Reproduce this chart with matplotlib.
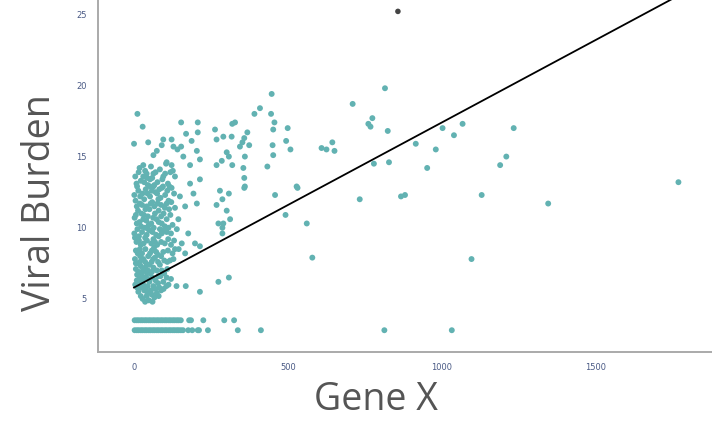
import matplotlib
matplotlib.use("Agg")
import matplotlib.pyplot as plt
import numpy as np

# ---- data (Gene X, Viral Burden) ----
dense_x = [11, 28, 0, 46, 153, 207, 207, 169, 95, 122, 153, 187, 90, 128, 74, 63, 106, 122, 182, 204,
           141, 160, 214, 41, 52, 30, 63, 95, 133, 90, 122, 149, 182, 214, 193, 52, 79, 106, 41, 133,
           166, 204, 68, 30, 9, 106, 144, 176, 139, 84, 46, 3, 63, 111, 155, 198, 214, 19, 52, 95,
           133, 166, 19, 57, 84, 117, 25, 52, 79, 106, 9, 30, 63, 95, 14, 41, 74, 138, 168, 214]
dense_y = [18.0, 17.1, 15.9, 16.0, 17.4, 17.4, 16.7, 16.6, 16.2, 16.2, 15.7, 16.1, 15.8, 15.7, 15.4, 15.1, 14.6, 14.4, 14.4, 15.4,
           15.5, 15.0, 14.8, 13.8, 13.4, 13.6, 12.9, 13.6, 13.6, 12.8, 12.8, 12.2, 13.1, 13.4, 12.4, 12.2, 12.0, 11.7, 11.5, 11.4,
           11.5, 11.7, 11.0, 10.6, 10.3, 10.6, 10.6, 9.6, 9.9, 9.9, 9.9, 9.3, 9.2, 9.2, 8.9, 8.9, 8.7, 8.5, 8.2, 8.3,
           8.5, 8.2, 7.6, 7.6, 7.4, 7.7, 6.9, 6.8, 6.6, 6.5, 6.3, 6.0, 5.9, 6.2, 5.5, 5.2, 5.4, 5.9, 5.9, 5.5]

fill_x = [18, 36, 55, 70, 84, 101, 8, 22, 45, 59, 76, 110, 118, 14, 27, 38, 70, 101, 115,
          5, 19, 33, 59, 88, 121, 13, 24, 50, 80, 96, 114, 2, 18, 40, 56, 73, 90, 125,
          11, 26, 35, 60, 72, 97, 120, 8, 16, 31, 42, 75, 88, 130, 6, 26, 37, 65, 78, 110, 145,
          3, 11, 30, 42, 68, 98, 128, 6, 15, 36, 45, 63, 90, 108, 17, 38, 50, 70, 86, 120,
          22, 44, 55, 82, 105, 22, 33, 58, 66, 88, 48, 28]
fill_y = [14.2, 14.0, 14.3, 13.9, 14.1, 13.8, 13.1, 13.3, 13.0, 13.5, 13.2, 13.1, 13.9, 12.6, 12.4, 12.7, 12.5, 12.3, 12.9,
          11.9, 11.7, 12.0, 11.8, 11.6, 11.8, 11.2, 11.0, 11.3, 11.2, 11.0, 11.3, 10.7, 10.4, 10.5, 10.3, 10.6, 10.3, 10.2,
          9.9, 9.7, 10.0, 9.7, 9.5, 9.8, 9.6, 9.0, 9.1, 8.9, 9.1, 8.8, 9.0, 9.1, 8.4, 8.2, 8.5, 8.6, 8.1, 8.4, 8.5,
          7.8, 7.5, 7.8, 7.4, 7.9, 7.7, 7.8, 7.1, 6.9, 7.2, 7.0, 7.2, 7.0, 7.1, 6.4, 6.5, 6.2, 6.3, 6.6, 6.4,
          5.8, 5.9, 5.6, 5.8, 5.9, 5.2, 5.6, 5.3, 5.1, 5.6, 4.9, 5.0]

fill2_x = [4, 15, 30, 43, 63, 92, 104, 126, 10, 33, 52, 66, 82, 94, 108, 1, 20, 44, 58, 75, 86, 130,
           9, 26, 37, 54, 66, 76, 100, 112, 6, 32, 45, 62, 88, 118, 23, 48, 64, 80, 100, 112,
           1, 16, 41, 52, 80, 90, 106, 22, 36, 56, 68, 100, 120, 12, 20, 46, 58, 72, 88, 125,
           6, 22, 36, 50, 62, 78, 108, 10, 26, 32, 42, 58, 74, 98, 4, 14, 28, 46, 60, 78, 96, 112,
           10, 38, 52, 70, 80, 44, 60, 36]
fill2_y = [13.6, 13.9, 14.4, 13.5, 13.8, 13.4, 14.5, 14.0, 12.9, 13.2, 12.9, 13.0, 12.7, 12.9, 12.6, 12.3, 12.2, 12.4, 12.6, 12.4, 12.1, 12.4,
           11.5, 11.6, 11.3, 11.7, 11.5, 11.7, 11.4, 11.9, 10.9, 10.9, 10.8, 10.7, 10.8, 10.9, 10.1, 10.2, 10.0, 10.4, 10.1, 10.0,
           9.6, 9.4, 9.5, 9.8, 9.4, 9.6, 9.7, 8.8, 9.3, 8.9, 9.0, 8.9, 8.8, 8.2, 8.0, 8.0, 8.4, 8.3, 8.0, 8.2,
           7.5, 7.3, 7.6, 7.4, 7.8, 7.6, 7.6, 6.7, 6.6, 7.0, 6.8, 6.9, 7.0, 6.8, 6.0, 6.2, 6.3, 6.4, 6.5, 6.1, 5.7, 6.0,
           5.8, 5.7, 5.5, 5.7, 5.2, 5.4, 4.8, 4.8]

mid_x = [447, 409, 391, 445, 456, 328, 319, 452, 499, 368, 263, 290, 317, 268, 358, 352, 344, 374, 494, 508,
         450, 452, 301, 308, 285, 268, 319, 360, 355, 433, 358, 360, 609, 625, 644, 651, 528,
         358, 279, 308, 268, 287, 301, 458, 531, 492, 561, 579, 274, 290, 312, 287, 287, 274, 308]
mid_y = [19.4, 18.4, 18.0, 18.0, 17.4, 17.4, 17.3, 16.9, 17.0, 16.7, 16.9, 16.4, 16.4, 16.2, 16.3, 16.0, 15.7, 15.8, 16.1, 15.5,
         15.8, 15.1, 15.3, 15.0, 14.7, 14.4, 14.4, 15.0, 14.2, 14.3, 13.5, 12.9, 15.6, 15.5, 16.0, 15.4, 12.9,
         12.8, 12.6, 12.4, 11.6, 12.0, 11.2, 12.3, 12.8, 10.9, 10.3, 7.9, 10.3, 10.3, 10.6, 10.0, 9.6, 6.2, 6.5]

far_x = [710, 815, 774, 761, 768, 824, 1002, 1067, 1039, 1233, 915, 980, 779, 828, 952, 1209, 1189,
         733, 867, 880, 1129, 1345, 1768, 1096, 813, 1032]
far_y = [18.7, 19.8, 17.7, 17.3, 17.1, 16.8, 17.0, 17.3, 16.5, 17.0, 15.9, 15.5, 14.5, 14.6, 14.2, 15.0, 14.4,
         12.0, 12.2, 12.3, 12.3, 11.7, 13.2, 7.8, 2.8, 2.8]

row_hi_x = [2, 9, 15, 22, 28, 35, 41, 48, 54, 61, 67, 74, 80, 87, 93, 100, 106, 113, 119, 126, 132, 139, 145,
            152, 179, 185, 225, 293, 325]
row_hi_y = 3.5
row_lo_x = [2, 9, 15, 22, 28, 35, 41, 48, 54, 61, 67, 74, 80, 87, 93, 100, 106, 113, 119, 126, 132, 139, 145,
            152, 159, 176, 189, 207, 211, 240, 337, 412]
row_lo_y = 2.8

extra_x = [857]
extra_y = [25.2]

fit_intercept = 5.8
fit_slope = 0.0116

x_ticks = [0, 500, 1000, 1500]
y_ticks = [5, 10, 15, 20, 25]

# ---- plot ----
W, H = 712, 421
fig = plt.figure(figsize=(W / 100, H / 100), dpi=100)
ax = fig.add_axes([98 / W, (H - 352) / H, (W - 98) / W, 352 / H])

teal = "#62b2b2"
all_x = dense_x + fill_x + fill2_x + mid_x + far_x + row_hi_x + row_lo_x
all_y = (dense_y + fill_y + fill2_y + mid_y + far_y
         + [row_hi_y] * len(row_hi_x) + [row_lo_y] * len(row_lo_x))
ax.scatter(all_x, all_y, s=18, color=teal, edgecolors="none", zorder=2)
ax.scatter(extra_x, extra_y, s=16, color="#444444", edgecolors="none", zorder=2)

lx = np.array([0, max(all_x)])
ax.plot(lx, fit_intercept + fit_slope * lx, color="black", lw=1.3, zorder=3)

ax.set_xlim(-117, 1877)
ax.set_ylim(1.27, 26.0)
ax.set_xticks(x_ticks)
ax.set_yticks(y_ticks)
ax.tick_params(length=0, labelsize=6, colors="#4a5a85", pad=8)
for s in ["top", "right"]:
    ax.spines[s].set_visible(False)
for s in ["left", "bottom"]:
    ax.spines[s].set_color("#aaaaaa")
    ax.spines[s].set_linewidth(1.4)

fig.text(40 / W, 1 - 203 / H, "Viral Burden", rotation=90, ha="center", va="center",
         fontsize=27, color="#555555", family="Open Sans")
fig.text(376 / W, 1 - 410 / H, "Gene X", ha="center", va="baseline",
         fontsize=27, color="#555555", family="Open Sans")

fig.savefig("out.png", dpi=100)
